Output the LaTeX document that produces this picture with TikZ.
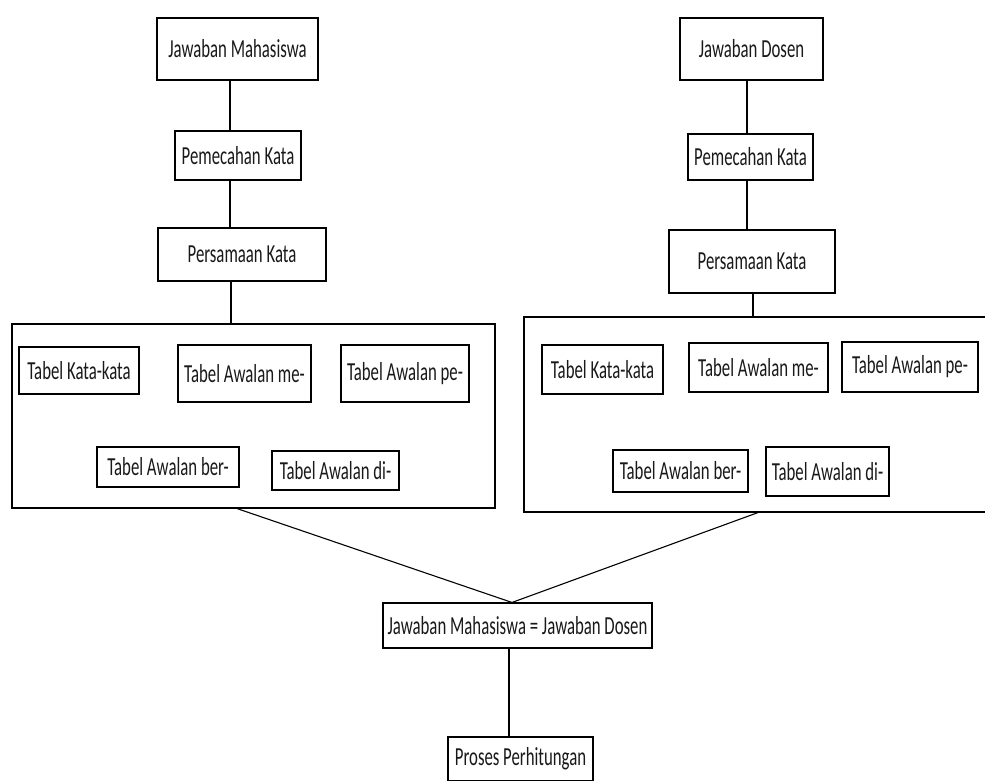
\documentclass[tikz,border=0pt]{standalone}
\usepackage{fontspec}
\setmainfont{Carlito}[FakeStretch=0.645]
\usepackage{tikz}

\begin{document}
\begin{tikzpicture}[x=1pt,y=-1pt,
        kotak/.style={draw, line width=1.1pt, inner sep=0pt, text=black!90,
                      font=\fontsize{26}{30}\selectfont},
        garis/.style={line width=1.1pt}]
        \useasboundingbox (0,0) rectangle (985,780);
        \clip (0,0) rectangle (985,780);
        % Kolom kiri (mahasiswa)
        \node[kotak, minimum width=161, minimum height=62] (jm) at (237.5,49) {Jawaban Mahasiswa};
        \node[kotak, minimum width=126, minimum height=49] (pk1) at (238,155.5) {Pemecahan Kata};
        \node[kotak, minimum width=168, minimum height=53] (ps1) at (242,254.5) {Persamaan Kata};
        \node[kotak, minimum width=483, minimum height=184] (bk1) at (253.5,416) {};
        \node[kotak, minimum width=120, minimum height=47] (tk1) at (79,370.5) {Tabel Kata-kata};
        \node[kotak, minimum width=133, minimum height=57] (me1) at (244.5,373.5) {Tabel Awalan me-};
        \node[kotak, minimum width=128, minimum height=57] (pe1) at (405,373.5) {Tabel Awalan pe-};
        \node[kotak, minimum width=142, minimum height=40] (ber1) at (168,467) {Tabel Awalan ber-};
        \node[kotak, minimum width=127, minimum height=39] (di1) at (335.5,470.5) {Tabel Awalan di-};
        % Kolom kanan (dosen)
        \node[kotak, minimum width=143, minimum height=62] (jd) at (751.5,49) {Jawaban Dosen};
        \node[kotak, minimum width=125, minimum height=46] (pk2) at (750.5,157) {Pemecahan Kata};
        \node[kotak, minimum width=166, minimum height=63] (ps2) at (752,261.5) {Persamaan Kata};
        \node[kotak, minimum width=466, minimum height=195] (bk2) at (757,414.5) {};
        \node[kotak, minimum width=121, minimum height=49] (tk2) at (602.5,369.5) {Tabel Kata-kata};
        \node[kotak, minimum width=139, minimum height=49] (me2) at (758.5,367.5) {Tabel Awalan me-};
        \node[kotak, minimum width=136, minimum height=50] (pe2) at (910,367) {Tabel Awalan pe-};
        \node[kotak, minimum width=135, minimum height=42] (ber2) at (680.5,471) {Tabel Awalan ber-};
        \node[kotak, minimum width=123, minimum height=49] (di2) at (827.5,471.5) {Tabel Awalan di-};
        % Perbandingan
        \node[kotak, minimum width=269, minimum height=45] (jj) at (517.5,625.5) {Jawaban Mahasiswa = Jawaban Dosen};
        \node[kotak, minimum width=145, minimum height=44] (pp) at (520.5,759) {Proses Perhitungan};

        % Garis
        \coordinate (kiri) at (230,0);
        \coordinate (kiri2) at (231,0);
        \coordinate (kanan) at (747,0);
        \coordinate (kanan2) at (753,0);
        \coordinate (dari1) at (237,0);
        \coordinate (dari2) at (758,0);
        \coordinate (temu) at (512,0);
        \coordinate (turun) at (509,0);
        \draw[garis] (jm.south -| kiri) -- (pk1.north -| kiri);
        \draw[garis] (pk1.south -| kiri) -- (ps1.north -| kiri);
        \draw[garis] (ps1.south -| kiri2) -- (bk1.north -| kiri2);
        \draw[garis] (jd.south -| kanan) -- (pk2.north -| kanan);
        \draw[garis] (pk2.south -| kanan) -- (ps2.north -| kanan);
        \draw[garis] (ps2.south -| kanan2) -- (bk2.north -| kanan2);
        \draw[garis] (bk1.south -| dari1) -- (jj.north -| temu);
        \draw[garis] (bk2.south -| dari2) -- (jj.north -| temu);
        \draw[garis] (jj.south -| turun) -- (pp.north -| turun);
    \end{tikzpicture}
\end{document}
